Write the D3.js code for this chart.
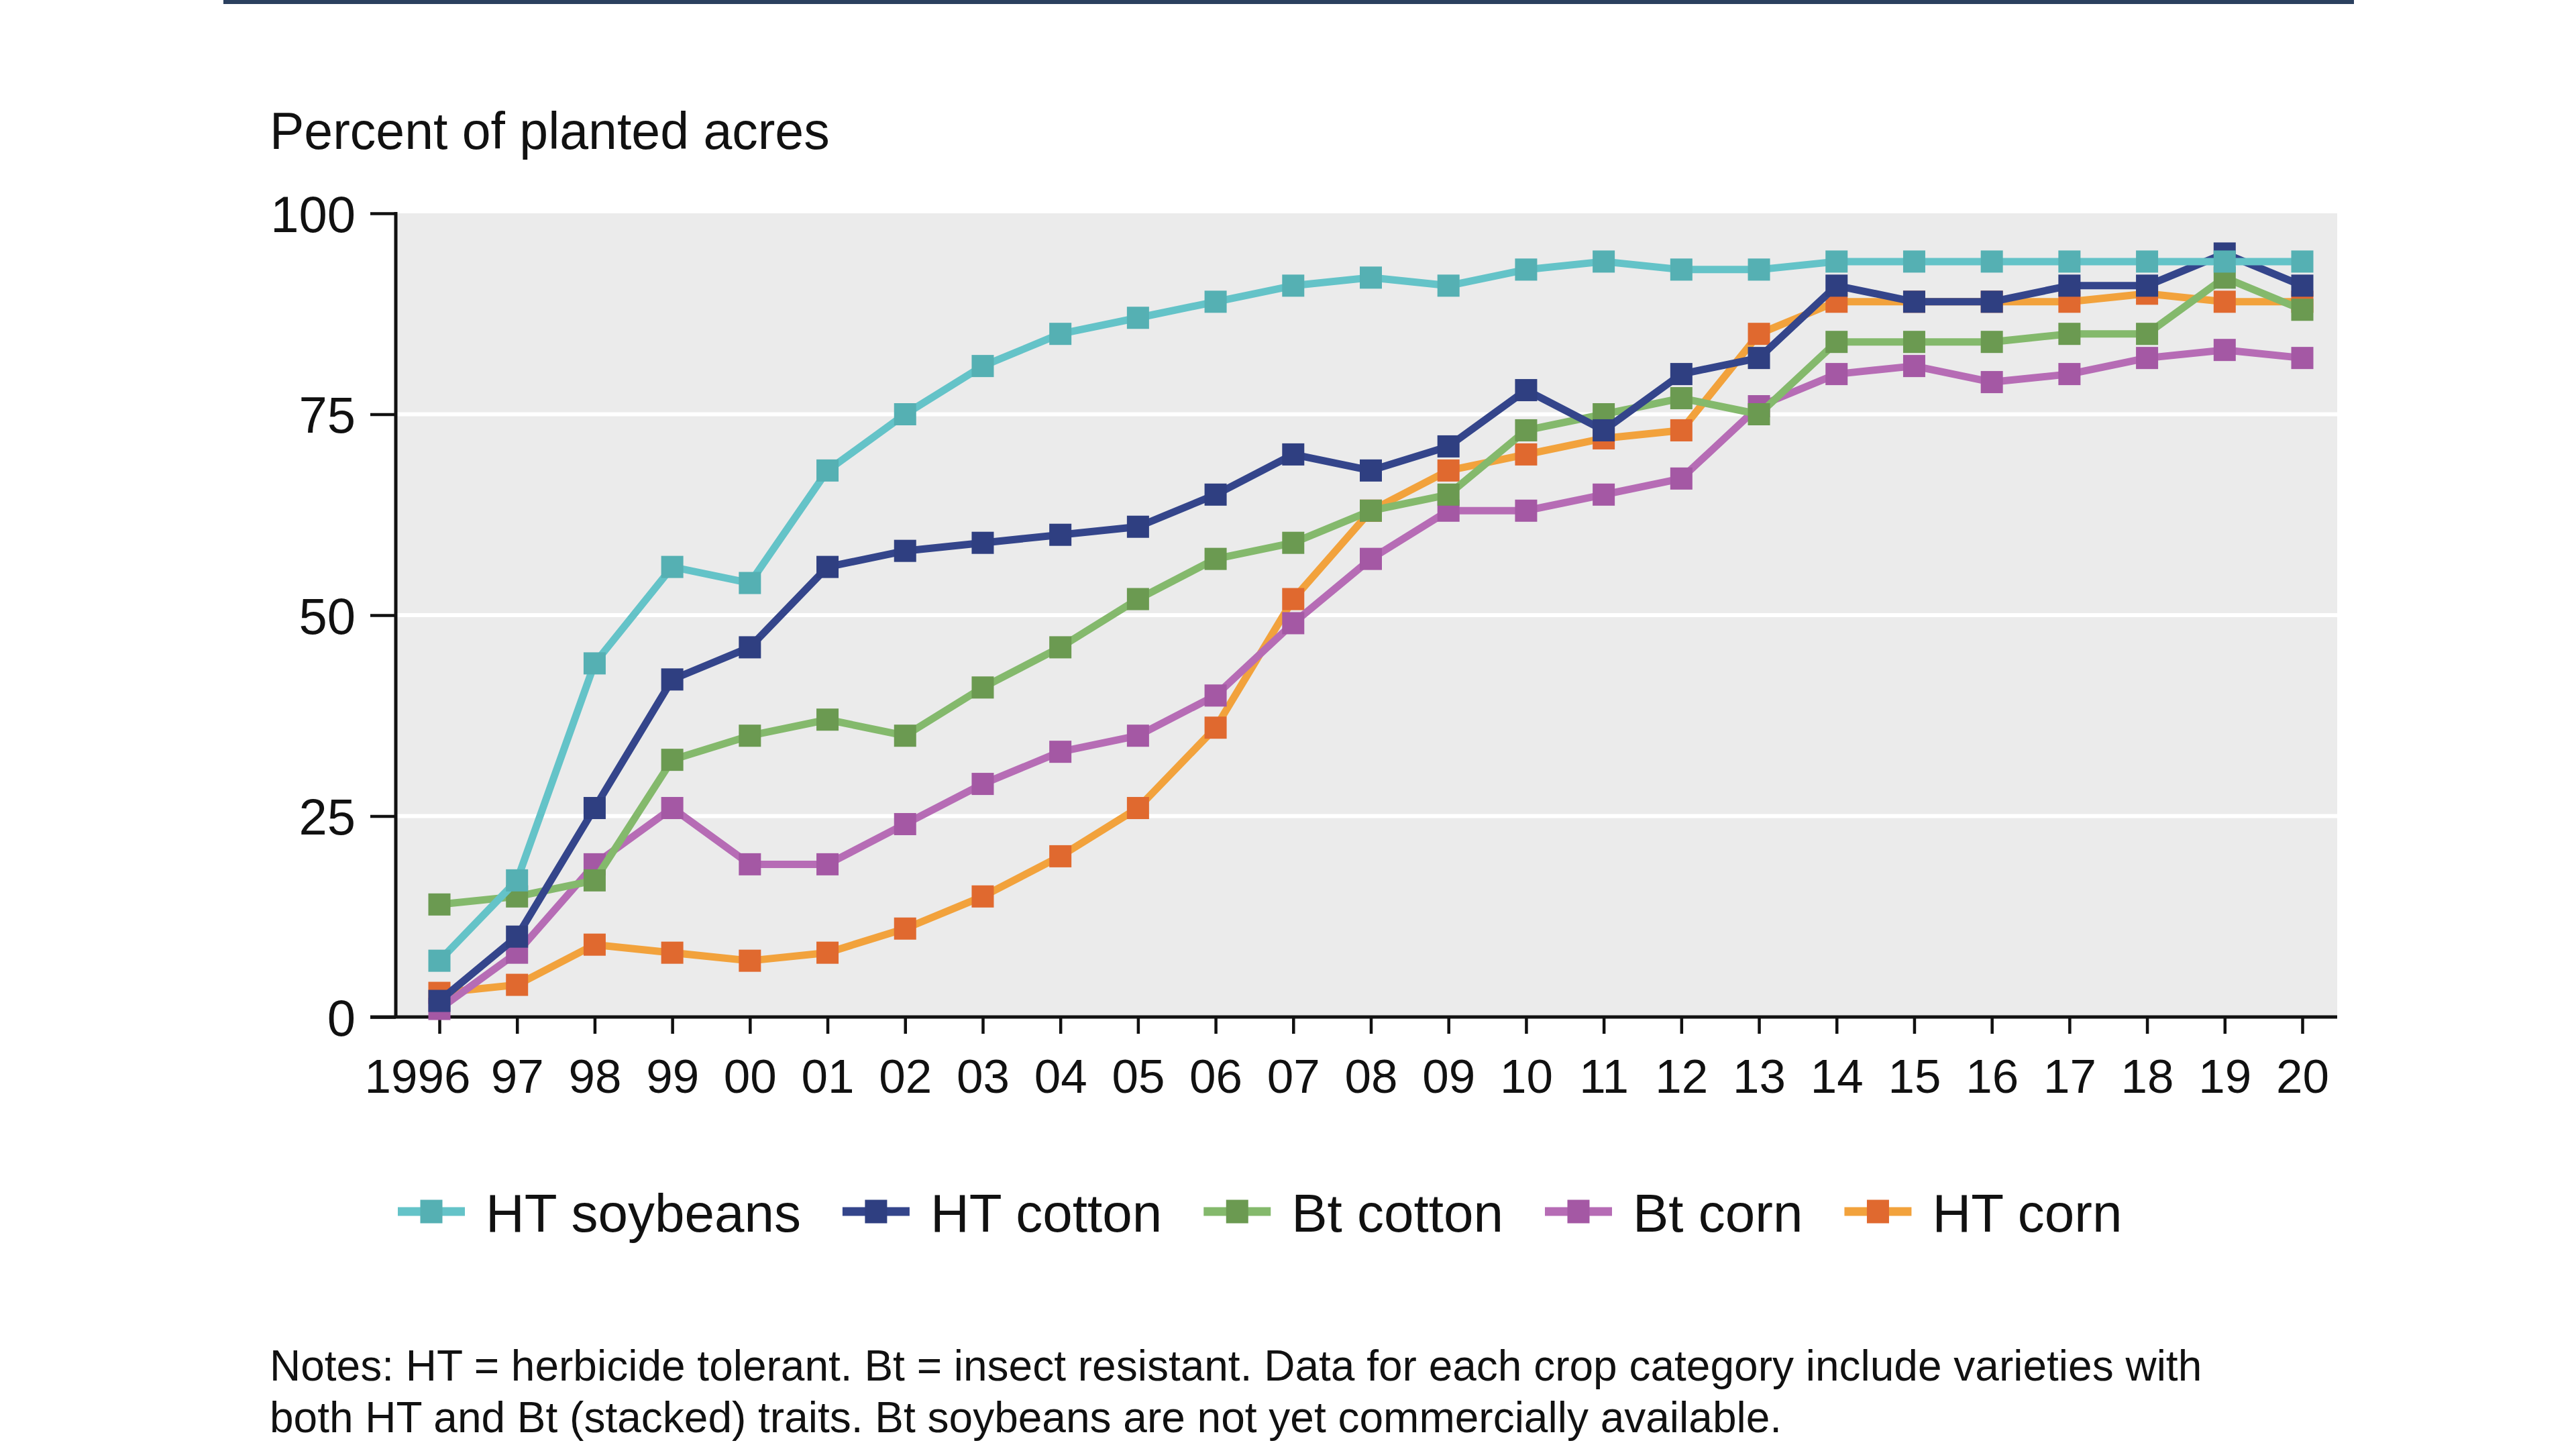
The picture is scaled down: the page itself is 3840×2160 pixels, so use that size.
<!DOCTYPE html>
<html>
<head>
<meta charset="utf-8">
<script src="https://cdn.jsdelivr.net/npm/d3@7"></script>
<style>
  html, body { margin: 0; padding: 0; background: #ffffff; }
  svg text { font-family: "Liberation Sans", Arial, Helvetica, sans-serif; fill: #111111; }
</style>
</head>
<body>
<svg id="chart" width="3840" height="2160"></svg>
<script>
// Data
var years = [1996, 1997, 1998, 1999, 2000, 2001, 2002, 2003, 2004, 2005, 2006, 2007, 2008,
             2009, 2010, 2011, 2012, 2013, 2014, 2015, 2016, 2017, 2018, 2019, 2020];
var yearLabels = ["1996", "97", "98", "99", "00", "01", "02", "03", "04", "05", "06", "07", "08",
                  "09", "10", "11", "12", "13", "14", "15", "16", "17", "18", "19", "20"];
var yTicks = [0, 25, 50, 75, 100];

var htSoybeans = [7, 17, 44, 56, 54, 68, 75, 81, 85, 87, 89, 91, 92, 91, 93, 94, 93, 93, 94, 94, 94, 94, 94, 94, 94];
var htCotton   = [2, 10, 26, 42, 46, 56, 58, 59, 60, 61, 65, 70, 68, 71, 78, 73, 80, 82, 91, 89, 89, 91, 91, 95, 91];
var btCotton   = [14, 15, 17, 32, 35, 37, 35, 41, 46, 52, 57, 59, 63, 65, 73, 75, 77, 75, 84, 84, 84, 85, 85, 92, 88];
var btCorn     = [1, 8, 19, 26, 19, 19, 24, 29, 33, 35, 40, 49, 57, 63, 63, 65, 67, 76, 80, 81, 79, 80, 82, 83, 82];
var htCorn     = [3, 4, 9, 8, 7, 8, 11, 15, 20, 26, 36, 52, 63, 68, 70, 72, 73, 85, 89, 89, 89, 89, 90, 89, 89];

var seriesNames = ["HT soybeans", "HT cotton", "Bt cotton", "Bt corn", "HT corn"];
var seriesValues = [htSoybeans, htCotton, btCotton, btCorn, htCorn];

var titleText = "Percent of planted acres";
var noteLines = ["Notes: HT = herbicide tolerant. Bt = insect resistant. Data for each crop category include varieties with",
                 "both HT and Bt (stacked) traits. Bt soybeans are not yet commercially available."];

// Colors (line, marker)
var lineColors   = ["#64c3c8", "#34458b", "#84b96c", "#b66cb5", "#f2a23c"];
var markerColors = ["#55b0b3", "#2f3f81", "#6b9a51", "#a458a4", "#e0692f"];
var plotBg = "#ebebeb";
var borderColor = "#2b405f";

// Layout
var plot = { left: 590, right: 3484, top: 318, bottom: 1516 };
var markerSize = 33;
var lineWidth = 11;

var svg = d3.select("#chart");

// Scales
var xScale = d3.scaleLinear()
               .domain([1996, 2020])
               .range([655, 3432]);
var yScale = d3.scaleLinear()
               .domain([0, 100])
               .range([plot.bottom, plot.top]);

// Top border
svg.append("rect")
   .attr("x", 333)
   .attr("y", 0)
   .attr("width", 3509 - 333)
   .attr("height", 6)
   .style("fill", borderColor);

// Axis title
svg.append("text")
   .attr("x", 402)
   .attr("y", 222)
   .style("font-size", "77px")
   .text(titleText);

// Plot background
svg.append("rect")
   .attr("x", plot.left)
   .attr("y", plot.top)
   .attr("width", plot.right - plot.left)
   .attr("height", plot.bottom - plot.top)
   .style("fill", plotBg);

// Gridlines
svg.selectAll("gridLine")
   .data(yTicks.filter(function(d) { return d > 0 && d < 100; }))
   .enter()
   .append("line")
   .attr("class", "gridLine")
   .attr("x1", plot.left)
   .attr("x2", plot.right)
   .attr("y1", function(d) { return yScale(d); })
   .attr("y2", function(d) { return yScale(d); })
   .style("stroke", "#ffffff")
   .style("stroke-width", 6);

// Y axis
var yAxis = svg.append("g")
               .attr("transform", "translate(" + plot.left + ",0)")
               .call(d3.axisLeft(yScale)
                       .tickValues(yTicks)
                       .tickSize(38)
                       .tickSizeOuter(0)
                       .tickPadding(22));
yAxis.select(".domain").remove();
yAxis.selectAll("line").style("stroke", "#111111").style("stroke-width", 4.5);
yAxis.selectAll("text")
     .style("font-size", "76px")
     .style("font-family", "'Liberation Sans', Arial, sans-serif")
     .style("fill", "#111111")
     .attr("dy", "0.36em");

// X axis
var xAxis = svg.append("g")
               .attr("transform", "translate(0," + plot.bottom + ")")
               .call(d3.axisBottom(xScale)
                       .tickValues(years)
                       .tickSize(25)
                       .tickSizeOuter(0)
                       .tickPadding(38)
                       .tickFormat(function(d, i) { return yearLabels[i]; }));
xAxis.select(".domain").remove();
xAxis.selectAll("line").style("stroke", "#111111").style("stroke-width", 4.5);
xAxis.selectAll("text")
     .style("font-size", "71px")
     .style("font-family", "'Liberation Sans', Arial, sans-serif")
     .style("fill", "#111111")
     .attr("dy", "0.71em");
// first label sits with its last two digits under the tick
xAxis.selectAll("text")
     .filter(function(d, i) { return i === 0; })
     .attr("text-anchor", "end")
     .attr("x", 46);

// Axis lines
svg.append("line")
   .attr("x1", plot.left)
   .attr("x2", plot.left)
   .attr("y1", plot.top - 2)
   .attr("y2", plot.bottom)
   .style("stroke", "#111111")
   .style("stroke-width", 5);
svg.append("line")
   .attr("x1", plot.left - 38)
   .attr("x2", plot.right)
   .attr("y1", plot.bottom)
   .attr("y2", plot.bottom)
   .style("stroke", "#111111")
   .style("stroke-width", 5);

// Series (drawn from last to first so soybeans end up on top)
var line = d3.line()
             .x(function(d, i) { return xScale(years[i]); })
             .y(function(d) { return yScale(d); });

var seriesGroup = svg.append("g").attr("id", "series");
for (var s = seriesValues.length - 1; s >= 0; s--) {
  var g = seriesGroup.append("g").attr("class", "seriesGroup");
  g.append("path")
   .datum(seriesValues[s])
   .attr("d", line)
   .style("fill", "none")
   .style("stroke", lineColors[s])
   .style("stroke-width", lineWidth)
   .style("stroke-linejoin", "round");
  g.selectAll("marker")
   .data(seriesValues[s])
   .enter()
   .append("rect")
   .attr("class", "marker")
   .attr("x", function(d, i) { return xScale(years[i]) - markerSize / 2; })
   .attr("y", function(d) { return yScale(d) - markerSize / 2; })
   .attr("width", markerSize)
   .attr("height", markerSize)
   .style("fill", markerColors[s]);
}

// Legend
var legend = svg.append("g").attr("id", "legend");
var legendX = 593;
var legendY = 1806;
for (var k = 0; k < seriesNames.length; k++) {
  var item = legend.append("g").attr("transform", "translate(" + legendX + "," + legendY + ")");
  item.append("line")
      .attr("x1", 0)
      .attr("x2", 100)
      .attr("y1", 0)
      .attr("y2", 0)
      .style("stroke", lineColors[k])
      .style("stroke-width", 13);
  item.append("rect")
      .attr("x", 50 - markerSize / 2)
      .attr("y", -markerSize / 2 - 1)
      .attr("width", markerSize)
      .attr("height", markerSize + 2)
      .style("fill", markerColors[k]);
  var label = item.append("text")
                  .attr("x", 131)
                  .attr("y", 30)
                  .style("font-size", "80px")
                  .text(seriesNames[k]);
  legendX += 131 + label.node().getComputedTextLength() + 62;
}

// Notes
svg.selectAll("noteText")
   .data(noteLines)
   .enter()
   .append("text")
   .attr("class", "noteText")
   .attr("x", 402)
   .attr("y", function(d, i) { return 2058 + i * 77; })
   .style("font-size", "64px")
   .text(function(d) { return d; });
</script>
</body>
</html>
